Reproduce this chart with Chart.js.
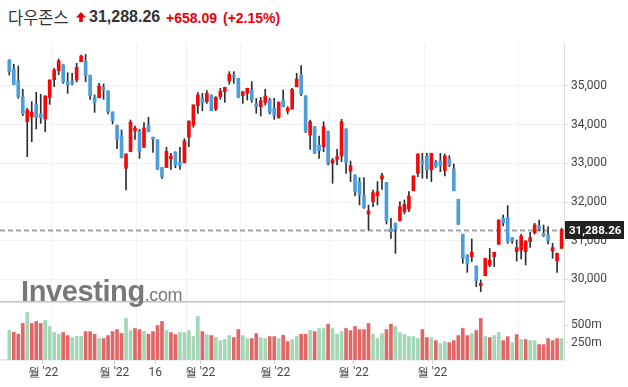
<!DOCTYPE html>
<html>
<head>
<meta charset="utf-8">
<script src="https://cdn.jsdelivr.net/npm/chart.js@4.4.0/dist/chart.umd.min.js"></script>
<style>
  body { margin: 0; width: 628px; height: 387px; background: #fff; overflow: hidden; position: relative; font-family: Roboto, sans-serif; }
  canvas { position: absolute; left: 0; }
  #price { top: 0; }
  #vol { top: 296px; }
  .hd { position: absolute; white-space: nowrap; }
  #name { left: 8px; top: 5px; font: 16.5px "Noto Sans CJK KR", sans-serif; color: #333; }
  #arrow { left: 76px; top: 12px; }
  #last { left: 89px; top: 8px; font: bold 16px "Liberation Sans", Arial, sans-serif; color: #333; }
  #chg { left: 166px; top: 10px; font: bold 14px "Liberation Sans", Arial, sans-serif; color: #e8000b; }
  #pct { left: 223px; top: 10px; font: bold 14px "Liberation Sans", Arial, sans-serif; color: #e8000b; }
  #logo { position: absolute; left: 21px; top: 275px; color: rgba(90,90,90,0.82); font-family: "Liberation Sans", Arial, sans-serif; letter-spacing: -0.4px; }
  #logo b { font-size: 29px; }
  #logo span { font-size: 18px; }
</style>
</head>
<body>
<div class="hd" id="name">다우존스</div>
<svg class="hd" id="arrow" width="10" height="10"><path d="M5 0 L10 5.5 L6.8 5.5 L6.8 10 L3.2 10 L3.2 5.5 L0 5.5 Z" fill="#e8000b"/></svg>
<div class="hd" id="last">31,288.26</div>
<div class="hd" id="chg">+658.09</div>
<div class="hd" id="pct">(+2.15%)</div>
<canvas id="price" width="628" height="304"></canvas>
<canvas id="vol" width="628" height="91"></canvas>
<div id="logo"><b>Investing</b><span>.com</span></div>
<script>
// Dow Jones daily candles, 2022-01-18 .. 2022-07-15
const open = [35672,35440,35129,34716,34078,34207,34535,34276,34147,34698,
  35163,35396,35542,35103,35129,35155,35629,35646,35275,34716,
  34698,34965,34870,34328,33984,33708,32873,33303,33846,33837,
  33415,33992,33673,33605,32898,32898,33122,33294,33036,33019,
  33674,33992,34492,34681,34595,34767,34406,34724,34853,35129,
  35284,35198,34750,34810,34896,34535,34466,34578,34638,34431,
  34182,34638,34354,34406,34983,35284,34741,33734,33949,33475,
  33432,33811,33002,33105,33191,33889,32795,32700,32528,32166,
  31692,32011,32166,32597,32502,31314,31451,31520,31753,31822,
  32295,32743,33062,33191,32830,33028,33062,32812,33114,32855,
  32071,31167,30633,30590,30349,29841,30099,30375,30590,30909,
  31580,31598,31081,30719,30763,30719,30978,31210,31383,31193,
  31150,30736,30487,30806]
const high = [35680,35560,35517,34914,34423,34595,34836,34784,34750,35160,
  35456,35697,35550,35344,35327,35585,35800,35818,35280,34767,
  35069,35052,34875,34330,33990,33863,33250,34121,33966,33880,
  34052,34190,33680,33610,32900,33415,33260,33300,33415,33640,
  34100,34515,34827,34810,34879,34770,34724,34940,34970,35370,
  35370,35200,34860,34945,35112,34681,34707,34914,34681,34681,
  34595,34896,34466,34940,35327,35525,34750,34121,33955,33708,
  34078,33837,33131,33363,34138,33890,33062,32705,32631,32631,
  31925,32313,32528,32743,32510,31580,31460,32011,32054,32270,
  32680,33250,33260,33260,33265,33071,33260,33243,33200,32985,
  32075,31170,30640,31047,30350,29987,30550,30806,30705,31540,
  31667,31908,31085,31021,31167,31000,31219,31451,31537,31408,
  31365,30935,30680,31325]
const low = [35284,35030,34681,34233,33174,33561,33889,34035,33820,34526,
  34983,35293,35069,34810,35026,35103,35620,35112,34655,34319,
  34690,34655,34276,34018,33381,33140,32313,33300,33622,33130,
  33410,33815,33286,32840,32614,32890,32847,32890,32847,33010,
  33432,33932,34294,34363,34552,34360,34363,34655,34578,35043,
  35069,34695,34552,34638,34578,34294,34225,34509,34276,34138,
  34164,34460,34276,34400,34980,34750,33794,33363,33255,33131,
  33303,32960,32485,32960,33045,32743,32528,32166,31925,31839,
  31279,31882,31925,32330,31434,31064,30676,31510,31693,31753,
  32290,32657,32614,32614,32528,32898,32787,32675,32915,32290,
  31420,30418,30185,30461,29815,29686,30095,30332,30332,30905,
  31383,30935,30935,30478,30530,30375,30831,31175,31262,31107,
  30918,30547,30185,30800]
const close = [35370,35034,34724,34285,34380,34328,34182,34182,34741,35155,
  35413,35646,35103,35034,35060,35482,35775,35267,34750,34569,
  34999,34896,34337,34104,33622,33148,33243,34070,33915,33303,
  33915,33820,33622,32847,32657,33312,33191,32958,32958,33579,
  34095,34509,34767,34569,34810,34363,34707,34870,34965,35301,
  35224,34698,34853,34940,34638,34466,34621,34741,34319,34233,
  34578,34466,34423,34914,35181,34793,33820,34078,33260,33329,
  33949,33002,33088,33174,34078,33019,32942,32270,32183,31856,
  31770,32243,32270,32683,31520,31236,31296,31882,31942,32158,
  32675,33243,32985,32830,33260,32916,32942,33191,32942,32295,
  31425,30547,30392,30702,29970,29901,30547,30504,30702,31537,
  31468,30978,31004,30823,31124,30995,31081,31408,31296,31124,
  31004,30823,30677,31288.26]

// volume in millions, and whether the bar is drawn green (1) or red (0)
const volume = [428,399,370,524,683,524,553,524,567,481,
  394,370,394,351,322,341,341,408,408,370,
  307,307,351,408,437,380,596,423,452,437,
  408,370,408,495,553,423,394,365,394,394,
  423,336,625,408,365,351,322,278,293,351,
  322,437,351,307,307,380,322,307,336,336,
  307,355,264,293,336,370,370,423,408,452,
  452,514,452,370,408,452,423,481,437,437,
  524,370,307,380,437,514,481,394,365,336,
  336,307,437,322,322,278,235,264,250,278,
  351,452,351,380,423,596,336,322,351,394,
  278,336,250,365,293,293,278,278,221,221,
  307,278,307,307]
const volUp = [1,0,0,0,1,0,0,0,1,1, 1,1,0,0,1,1,1,0,0,0, 1,0,0,0,0,0,1,1,0,0,
  1,0,0,0,0,1,0,0,1,1, 1,1,1,0,1,0,1,1,1,1, 0,0,1,1,0,0,1,1,0,0,
  1,0,0,1,1,0,0,1,0,1, 1,0,1,1,1,0,0,0,0,0, 0,1,1,1,0,0,1,1,1,1,
  1,1,0,0,1,0,1,1,0,0, 0,0,0,1,0,0,1,0,1,1, 0,0,1,0,1,0,1,1,0,0,
  0,0,0,1]

const priceTicks = [30000, 31000, 32000, 33000, 34000, 35000]
const volTicks = [250, 500]
// index of the first session of each marked period, and its axis text
const monthStarts = [10, 29, 40, 52, 72, 93, 114]
const monthLabels = ["월 '22", "월 '22", "16", "월 '22", "월 '22", "월 '22", "월 '22"]
const lastPrice = 31288.26

const UP = '#f20a0a', DOWN = '#4a9edb', WICK = '#2b2f33'
const VOL_UP = '#a4d7b5', VOL_DOWN = '#e26666'
const X_MIN = -2.07, X_MAX = 123.54
const idx = close.map((c, i) => i)

Chart.defaults.font.family = 'Roboto'
Chart.defaults.font.size = 12
Chart.defaults.color = '#444'

function fitRight(s) {
  s.width = 64
  s.paddingTop = 0
  s.paddingBottom = 0
}

function monthGrid(s) {
  s.ticks = monthStarts.map(m => ({ value: m - 0.6 }))
}

const common = {
  animation: false,
  responsive: false,
  events: [],
  plugins: { legend: { display: false }, tooltip: { enabled: false } }
}

// dashed line at the last close plus the black price tag on the axis
const lastLine = {
  id: 'lastLine',
  beforeDatasetsDraw(chart) {
    const { ctx, chartArea: a, scales: { y } } = chart
    const py = Math.round(y.getPixelForValue(lastPrice)) + 0.5
    ctx.save()
    ctx.strokeStyle = '#a3a3a3'
    ctx.lineWidth = 2
    ctx.setLineDash([5, 3])
    ctx.beginPath()
    ctx.moveTo(a.left, py)
    ctx.lineTo(a.right, py)
    ctx.stroke()
    ctx.restore()
  },
  afterDraw(chart) {
    const { ctx, chartArea: a, scales: { y } } = chart
    const py = Math.round(y.getPixelForValue(lastPrice))
    ctx.save()
    ctx.fillStyle = '#222'
    ctx.fillRect(a.right + 1, py - 9, 59, 18)
    ctx.fillStyle = '#fff'
    ctx.font = 'bold 11.5px Roboto'
    ctx.textBaseline = 'middle'
    ctx.fillText(lastPrice.toLocaleString('en-US', { minimumFractionDigits: 2 }), a.right + 5, py + 1)
    ctx.restore()
  }
}

new Chart(document.getElementById('price'), {
  type: 'bar',
  data: {
    datasets: [
      {
        data: idx.map(i => ({ x: i, y: [low[i], high[i]] })),
        backgroundColor: WICK,
        barThickness: 1,
        grouped: false,
        order: 2
      },
      {
        data: idx.map(i => ({ x: i, y: [open[i], close[i]] })),
        backgroundColor: idx.map(i => close[i] >= open[i] ? UP : DOWN),
        barThickness: 3,
        minBarLength: 2,
        grouped: false,
        order: 1
      }
    ]
  },
  options: {
    ...common,
    layout: { padding: { top: 43, bottom: 2, left: 0, right: 0 } },
    scales: {
      x: {
        type: 'linear', min: X_MIN, max: X_MAX, offset: false,
        grid: { offset: false, color: '#f2f2f2', drawTicks: false },
        border: { display: true, color: '#c2c2c2', width: 1.5 },
        ticks: { display: false },
        afterBuildTicks: monthGrid,
        afterFit: s => { s.height = 0 }
      },
      y: {
        position: 'right', min: 29418, max: 36111,
        grid: { color: '#f2f2f2', tickLength: 4, tickColor: '#dcdcdc' },
        border: { color: '#dcdcdc' },
        ticks: { padding: 3, callback: v => v.toLocaleString('en-US') },
        afterBuildTicks: s => { s.ticks = priceTicks.map(v => ({ value: v })) },
        afterFit: fitRight
      }
    }
  },
  plugins: [lastLine]
})

new Chart(document.getElementById('vol'), {
  type: 'bar',
  data: {
    datasets: [{
      data: idx.map(i => ({ x: i, y: volume[i] })),
      backgroundColor: idx.map(i => volUp[i] ? VOL_UP : VOL_DOWN),
      barThickness: 3
    }]
  },
  options: {
    ...common,
    layout: { padding: { top: 7, bottom: 0, left: 0, right: 0 } },
    scales: {
      x: {
        type: 'linear', min: X_MIN, max: X_MAX, offset: false,
        grid: { offset: false, color: '#f2f2f2', drawTicks: false },
        border: { display: true, color: '#e2e2e2', width: 1.5 },
        ticks: { display: false },
        afterBuildTicks: monthGrid,
        afterFit: s => { s.height = 0 }
      },
      // the date labels sit on a stretched copy of the x axis
      xl: {
        type: 'linear', position: 'bottom', offset: false,
        min: X_MIN, max: X_MIN + 1.2 * (X_MAX - X_MIN),
        grid: { offset: false, drawOnChartArea: false, tickLength: 4, tickColor: '#d0d0d0' },
        border: { display: false },
        ticks: { padding: 2, maxRotation: 0, autoSkip: false, callback: (v, i) => monthLabels[i] },
        afterBuildTicks: monthGrid,
        afterFit: s => { s.height = 27; s.paddingLeft = 0; s.paddingRight = 0 }
      },
      y: {
        position: 'right', min: 0, max: 818,
        grid: { drawOnChartArea: false, tickLength: 4, tickColor: '#dcdcdc' },
        border: { color: '#dcdcdc' },
        ticks: { padding: 3, callback: v => v + 'm' },
        afterBuildTicks: s => { s.ticks = volTicks.map(v => ({ value: v })) },
        afterFit: fitRight
      }
    }
  }
})
</script>
</body>
</html>
